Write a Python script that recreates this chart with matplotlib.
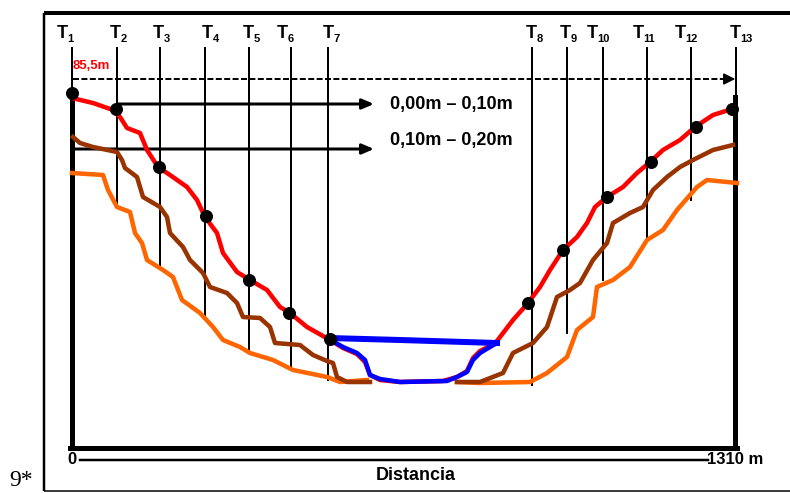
import matplotlib
matplotlib.use("Agg")
import matplotlib.pyplot as plt

# schematic cross-section, coordinates in image units (x right, y down)
transect_names = ["1", "2", "3", "4", "5", "6", "7", "8", "9", "10", "11", "12", "13"]
transect_x = [72, 117, 160, 205, 249, 291, 328, 532, 567, 603, 647, 691, 736]
transect_end = [93, 205, 265, 315, 352, 368, 380, 385, 333, 280, 237, 200, 97]
label_x = [57, 110, 153, 202, 243, 277, 323, 526, 560, 587, 633, 675, 730]

# profile at 0,00 m - 0,10 m (red)
red_x = [72, 93, 113, 120, 127, 140, 147, 158, 170, 187, 197, 205, 217, 223, 237, 250, 267,
         280, 290, 307, 330, 343, 357, 365, 370, 380, 400, 443, 457, 467, 473, 480, 490, 497,
         513, 528, 540, 550, 563, 577, 587, 595, 607, 623, 637, 650, 663, 680, 695, 713, 732]
red_y = [98, 103, 110, 117, 128, 133, 150, 167, 175, 187, 200, 217, 233, 253, 272, 280, 290,
         307, 313, 327, 340, 348, 354, 362, 375, 380, 382, 381, 377, 371, 358, 351, 346, 341,
         320, 303, 287, 270, 250, 237, 223, 207, 197, 187, 173, 162, 150, 140, 127, 115, 109]

# profile at 0,10 m - 0,20 m (brown), two pieces
brown1_x = [73, 80, 93, 117, 122, 125, 137, 143, 160, 167, 170, 183, 190, 203, 210, 227, 237,
            243, 260, 270, 275, 300, 313, 327, 333, 337, 347, 370]
brown1_y = [137, 143, 147, 152, 160, 168, 177, 197, 207, 217, 233, 247, 260, 273, 287, 293, 303,
            317, 318, 327, 343, 345, 355, 361, 363, 377, 382, 382]
brown2_x = [457, 480, 503, 513, 533, 547, 557, 570, 580, 593, 607, 613, 630, 643, 653, 667, 680,
            693, 713, 733]
brown2_y = [382, 382, 373, 353, 343, 327, 297, 290, 283, 260, 243, 223, 213, 207, 190, 177, 167,
            160, 150, 145]

# deeper profile (orange), two pieces
orange1_x = [72, 103, 108, 117, 130, 135, 142, 147, 163, 173, 182, 200, 213, 223, 240, 250, 273,
             293, 327, 340, 367]
orange1_y = [173, 175, 190, 207, 212, 233, 243, 260, 270, 277, 300, 313, 327, 340, 347, 353, 360,
             370, 377, 382, 380]
orange2_x = [457, 480, 530, 547, 567, 577, 593, 597, 613, 630, 647, 663, 677, 697, 707, 737]
orange2_y = [382, 383, 382, 373, 357, 330, 317, 287, 280, 267, 240, 230, 210, 187, 180, 183]

# water body (blue): bed outline and surface
blue_x = [329, 343, 357, 365, 370, 380, 400, 447, 457, 467, 473, 480, 490, 497]
blue_y = [339, 347, 353, 360, 375, 379, 382, 381, 377, 372, 360, 353, 347, 343]
water_x = [329, 400, 497]
water_y = [338, 340, 343]

# black dots where transects cross the surface
dot_x = [72, 116, 159, 206, 249, 289, 330, 528, 563, 607, 651, 696, 732]
dot_y = [93, 109, 167, 216, 280, 313, 339, 303, 250, 197, 162, 127, 109]

W, H = 790, 493
fig = plt.figure(figsize=(W / 100, H / 100), dpi=100)
ax = fig.add_axes([0, 0, 1, 1])
ax.set_xlim(0, W)
ax.set_ylim(H, 0)
ax.axis("off")

px = 0.72  # one pixel in points
font = "Liberation Sans"

# outer frame
ax.plot([44, 790], [13, 13], color="black", lw=4 * px, solid_capstyle="butt")
ax.plot([44, 44], [13, 491], color="black", lw=2.5 * px, solid_capstyle="butt")
ax.plot([44, 790], [491, 491], color="black", lw=1.5 * px, solid_capstyle="butt")

# transects
for i, (x, yb) in enumerate(zip(transect_x, transect_end)):
    ax.plot([x, x], [48, yb], color="black", lw=2 * px, zorder=2)
    ax.text(label_x[i], 33, "T", fontsize=13, fontweight="bold", family=font,
            ha="left", va="center")
    ax.text(label_x[i] + 10.5, 39, transect_names[i], fontsize=8, fontweight="bold",
            family=font, ha="left", va="center")

# inner box
ax.plot([72, 72], [93, 448], color="black", lw=5 * px, zorder=3)
ax.plot([735, 735], [97, 448], color="black", lw=5 * px, zorder=3)
ax.plot([70, 737], [448, 448], color="black", lw=5 * px, zorder=3)

# reference level
ax.plot([73, 728], [79, 79], color="black", lw=2 * px, dashes=(3, 1.2), zorder=2)
ax.annotate("", xy=(738, 79), xytext=(724, 79),
            arrowprops=dict(arrowstyle="-|>,head_length=0.7,head_width=0.35",
                            color="black", lw=1.5 * px))
ax.text(73, 66, "85,5m", color="red", fontsize=9.5, fontweight="bold", family=font,
        ha="left", va="center")

# depth arrows
ax.annotate("", xy=(374, 104), xytext=(117, 104),
            arrowprops=dict(arrowstyle="-|>,head_length=0.7,head_width=0.3",
                            color="black", lw=3 * px, shrinkA=0, shrinkB=0))
ax.annotate("", xy=(374, 149), xytext=(72, 149),
            arrowprops=dict(arrowstyle="-|>,head_length=0.7,head_width=0.3",
                            color="black", lw=3 * px, shrinkA=0, shrinkB=0))
ax.text(390, 104, "0,00m \u2013 0,10m", fontsize=13, fontweight="bold", family=font,
        ha="left", va="center")
ax.text(390, 140, "0,10m \u2013 0,20m", fontsize=13, fontweight="bold", family=font,
        ha="left", va="center")

# profiles
lw = 4.5 * px
ax.plot(orange1_x, orange1_y, color="#FF6600", lw=lw, zorder=4)
ax.plot(orange2_x, orange2_y, color="#FF6600", lw=lw, zorder=4)
ax.plot(brown1_x, brown1_y, color="#993300", lw=lw, zorder=5)
ax.plot(brown2_x, brown2_y, color="#993300", lw=lw, zorder=5)
ax.plot(red_x, red_y, color="#FF0000", lw=lw, zorder=6)
ax.plot(blue_x, blue_y, color="#0000FF", lw=lw, zorder=7)
ax.plot(water_x, water_y, color="#0000FF", lw=6 * px, zorder=7)
ax.scatter(dot_x, dot_y, s=70, color="black", zorder=8)

# distance scale
ax.plot([80, 708], [460, 460], color="black", lw=2.5 * px)
ax.text(72, 460, "0", fontsize=12, fontweight="bold", family=font, ha="center", va="center")
ax.text(707, 460, "1310 m", fontsize=12, fontweight="bold", family=font, ha="left", va="center")
ax.text(416, 476, "Distancia", fontsize=13, fontweight="bold", family=font,
        ha="center", va="center")

ax.text(9, 481, "9*", fontsize=17, family="Liberation Serif", ha="left", va="center")

fig.savefig("out.png", dpi=100)
